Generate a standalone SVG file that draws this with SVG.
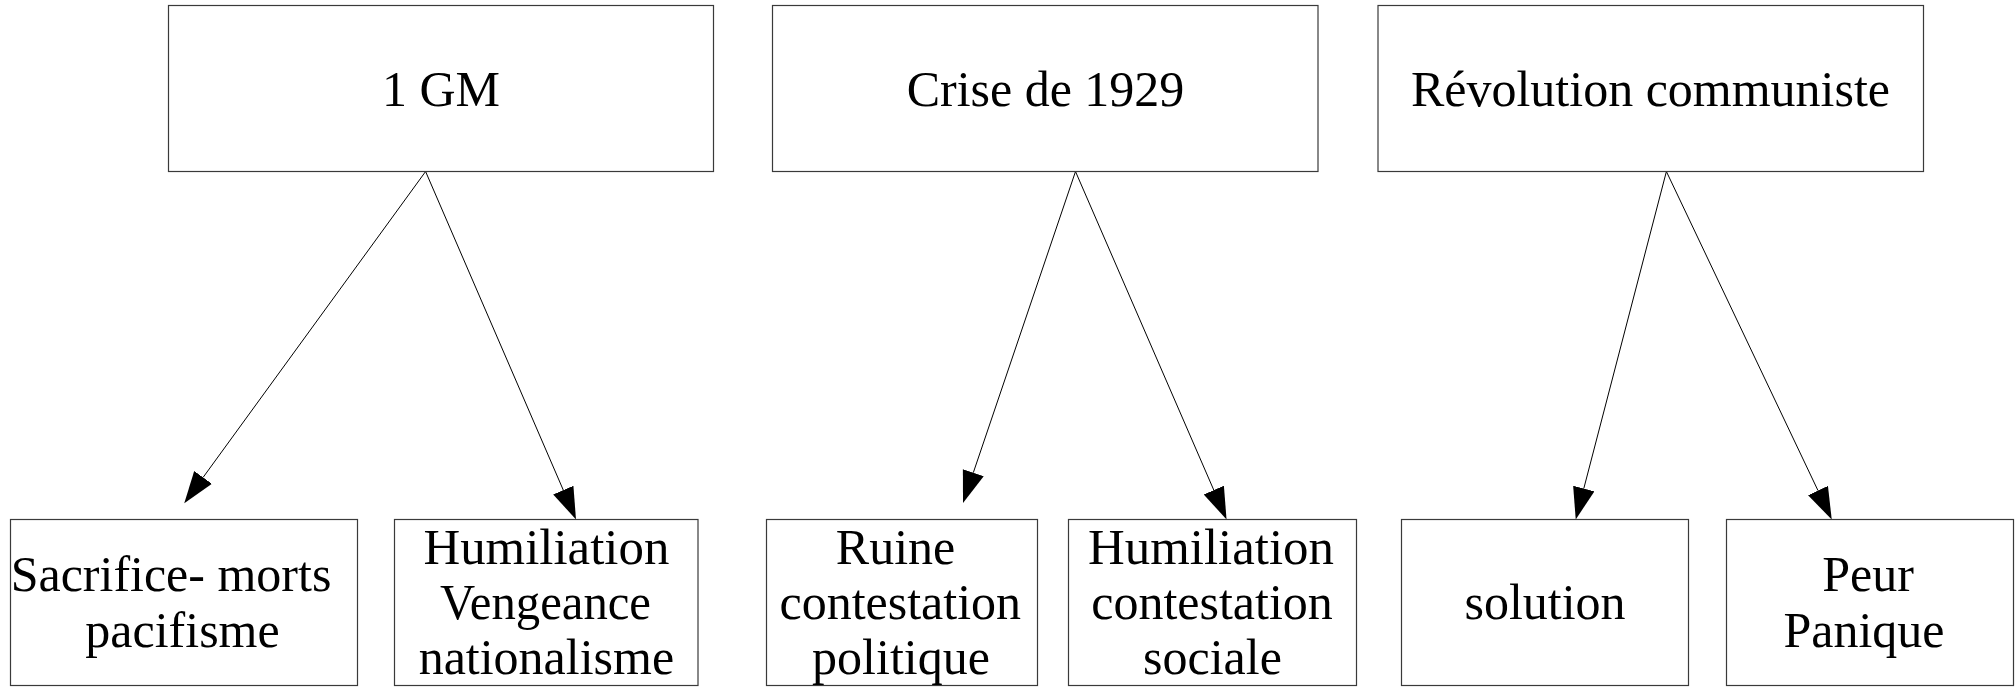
<svg xmlns="http://www.w3.org/2000/svg" width="2016" height="687" viewBox="0 0 2016 687">
<style>
.box{fill:#ffffff;stroke:#3a3a3a;stroke-width:1.2}
.t{font-family:"Liberation Serif","Times New Roman",serif;font-size:50px;fill:#000;text-anchor:middle}
.c{stroke:#000;stroke-width:1;fill:none}
</style>
<defs>
<marker id="ah" markerUnits="userSpaceOnUse" markerWidth="34" markerHeight="24" refX="0" refY="11" orient="auto" viewBox="0 0 34 24">
<path d="M0,0 L32,11 L0,22 Z" fill="#000"/>
</marker>
</defs>
<rect width="2016" height="687" fill="#ffffff"/>
<g id="connectors">
<path class="c" d="M425.6,171.5 L203.1,477.4" marker-end="url(#ah)"/>
<path class="c" d="M425.6,171.5 L563.3,490.1" marker-end="url(#ah)"/>
<path class="c" d="M1075.5,171.5 L973.3,472.7" marker-end="url(#ah)"/>
<path class="c" d="M1075.5,171.5 L1213.8,490.1" marker-end="url(#ah)"/>
<path class="c" d="M1666.4,171.5 L1583.8,488.5" marker-end="url(#ah)"/>
<path class="c" d="M1666.4,171.5 L1818.0,490.6" marker-end="url(#ah)"/>
</g>
<g id="n-1gm">
<rect class="box" x="168.5" y="5.5" width="545" height="166"/>
<text class="t" x="441" y="106">1 GM</text>
</g>
<g id="n-crise">
<rect class="box" x="772.5" y="5.5" width="545.5" height="166"/>
<text class="t" x="1045.5" y="106">Crise de 1929</text>
</g>
<g id="n-revolution">
<rect class="box" x="1378" y="5.5" width="545.5" height="166"/>
<text class="t" x="1650.5" y="106">Révolution communiste</text>
</g>
<g id="n-sacrifice">
<rect class="box" x="10.5" y="519.5" width="347" height="166"/>
<text class="t" x="171" y="591.2">Sacrifice- morts</text>
<text class="t" x="182.5" y="646.5">pacifisme</text>
</g>
<g id="n-humiliation1">
<rect class="box" x="394.5" y="519.5" width="303.5" height="166"/>
<text class="t" x="546.4" y="563.6" textLength="246" lengthAdjust="spacingAndGlyphs">Humiliation</text>
<text class="t" x="545.5" y="619" textLength="211" lengthAdjust="spacingAndGlyphs">Vengeance</text>
<text class="t" x="546.4" y="674.3">nationalisme</text>
</g>
<g id="n-ruine">
<rect class="box" x="766.5" y="519.5" width="271" height="166"/>
<text class="t" x="895.5" y="563.6">Ruine</text>
<text class="t" x="900.3" y="619">contestation</text>
<text class="t" x="901" y="674.3">politique</text>
</g>
<g id="n-humiliation2">
<rect class="box" x="1068.5" y="519.5" width="288" height="166"/>
<text class="t" x="1211" y="563.6" textLength="246" lengthAdjust="spacingAndGlyphs">Humiliation</text>
<text class="t" x="1212" y="619">contestation</text>
<text class="t" x="1212.5" y="674.3">sociale</text>
</g>
<g id="n-solution">
<rect class="box" x="1401.5" y="519.5" width="287" height="166"/>
<text class="t" x="1545" y="619">solution</text>
</g>
<g id="n-peur">
<rect class="box" x="1726.5" y="519.5" width="287" height="166"/>
<text class="t" x="1868" y="591.2">Peur</text>
<text class="t" x="1864" y="646.5">Panique</text>
</g>
</svg>
